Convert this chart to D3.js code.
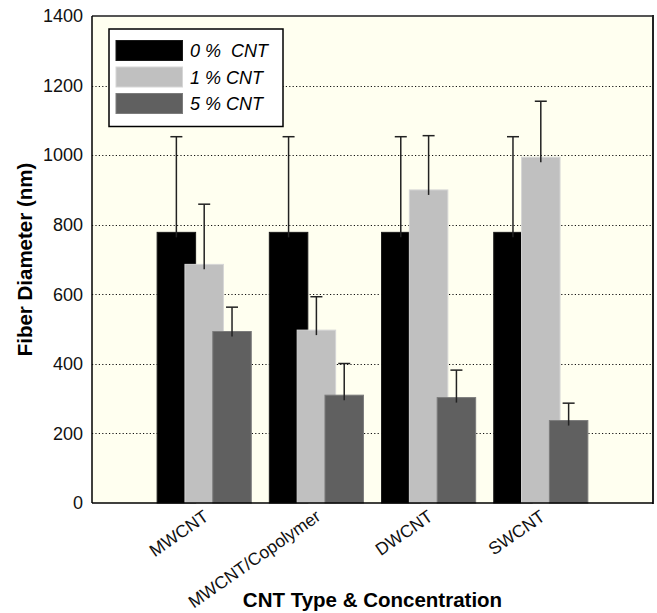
<!DOCTYPE html>
<html>
<head>
<meta charset="utf-8">
<script src="https://cdn.jsdelivr.net/npm/d3@7/dist/d3.min.js"></script>
<style>
  body { margin: 0; background: #fff; }
  svg { display: block; font-family: "Liberation Sans", Arial, sans-serif; }
</style>
</head>
<body>
<div id="graph"></div>
<script>
// data
var categories = ["MWCNT", "MWCNT/Copolymer", "DWCNT", "SWCNT"];
var seriesNames = ["0 %  CNT", "1 % CNT", "5 % CNT"];
var cnt0 = [778, 778, 778, 778];
var cnt0Err = [275, 275, 275, 275];
var cnt1 = [686, 497, 900, 994];
var cnt1Err = [173, 96, 156, 161];
var cnt5 = [493, 310, 303, 237];
var cnt5Err = [70, 91, 79, 50];
var yTicks = [0, 200, 400, 600, 800, 1000, 1200, 1400];

var colors = ["#000000", "#c0c0c0", "#606060"];
var edges = ["#1a1a1a", "#d6d6d6", "#7c7c7c"];

var width = 657, height = 613;
var margin = {left: 92, right: 4, top: 16, bottom: 110};
var plotW = width - margin.left - margin.right;
var plotH = height - margin.top - margin.bottom;

var svg = d3.select("#graph").append("svg")
    .attr("width", width)
    .attr("height", height);

var x = d3.scalePoint()
    .domain(categories)
    .range([margin.left, margin.left + plotW])
    .padding(1);
var y = d3.scaleLinear()
    .domain([0, 1400])
    .range([margin.top + plotH, margin.top]);

var step = x.step();
var barW = step * 0.343;
var offs = [-0.248 * step, 0, 0.248 * step];

// plot background
svg.append("rect")
    .attr("x", margin.left)
    .attr("y", margin.top)
    .attr("width", plotW)
    .attr("height", plotH)
    .attr("fill", "#fffff0");

// dotted grid
svg.append("g").selectAll("line")
    .data(yTicks.filter(function(d) { return d > 0 && d < 1400; }))
    .enter().append("line")
    .attr("x1", margin.left)
    .attr("x2", margin.left + plotW)
    .attr("y1", function(d) { return Math.round(y(d)) + 0.5; })
    .attr("y2", function(d) { return Math.round(y(d)) + 0.5; })
    .attr("stroke", "#111")
    .attr("stroke-width", 1)
    .attr("stroke-dasharray", "1.2,2.2");

// bars
var series = [
    {vals: cnt0, errs: cnt0Err},
    {vals: cnt1, errs: cnt1Err},
    {vals: cnt5, errs: cnt5Err}
];
var barsG = svg.append("g");
categories.forEach(function(c, ci) {
    series.forEach(function(s, si) {
        barsG.append("rect")
            .attr("x", x(c) + offs[si] - barW / 2)
            .attr("y", y(s.vals[ci]))
            .attr("width", barW)
            .attr("height", y(0) - y(s.vals[ci]))
            .attr("fill", colors[si])
            .attr("stroke", edges[si])
            .attr("stroke-width", 1);
    });
});

// error bars (upper only)
var errG = svg.append("g")
    .attr("stroke", "#222")
    .attr("stroke-width", 1.5);
categories.forEach(function(c, ci) {
    series.forEach(function(s, si) {
        var cx = x(c) + offs[si];
        var top = y(s.vals[ci] + s.errs[ci]);
        errG.append("line")
            .attr("x1", cx).attr("x2", cx)
            .attr("y1", top)
            .attr("y2", y(s.vals[ci]) + 5);
        errG.append("line")
            .attr("x1", cx - 6).attr("x2", cx + 6)
            .attr("y1", top).attr("y2", top);
    });
});

// frame
svg.append("line")
    .attr("x1", margin.left).attr("x2", margin.left + plotW)
    .attr("y1", margin.top).attr("y2", margin.top)
    .attr("stroke", "#555").attr("stroke-width", 2);
svg.append("line")
    .attr("x1", margin.left + plotW).attr("x2", margin.left + plotW)
    .attr("y1", margin.top - 1).attr("y2", margin.top + plotH + 1)
    .attr("stroke", "#222").attr("stroke-width", 2);
svg.append("line")
    .attr("x1", margin.left).attr("x2", margin.left)
    .attr("y1", margin.top).attr("y2", margin.top + plotH)
    .attr("stroke", "#000").attr("stroke-width", 1.5);
svg.append("line")
    .attr("x1", margin.left).attr("x2", margin.left + plotW)
    .attr("y1", margin.top + plotH).attr("y2", margin.top + plotH)
    .attr("stroke", "#000").attr("stroke-width", 1.5);

// y axis labels
var yAxis = d3.axisLeft(y).tickValues(yTicks).tickFormat(d3.format("d"))
    .tickSize(0).tickPadding(9);
var yg = svg.append("g")
    .attr("transform", "translate(" + margin.left + ",0)")
    .call(yAxis);
yg.select(".domain").remove();
yg.selectAll("text")
    .attr("font-size", 18)
    .attr("font-family", "'Liberation Sans', Arial, sans-serif")
    .attr("fill", "#111");

// x axis labels
var xAxis = d3.axisBottom(x).tickSize(0).tickPadding(0);
var xg = svg.append("g")
    .attr("transform", "translate(0," + (margin.top + plotH) + ")")
    .call(xAxis);
xg.select(".domain").remove();
xg.selectAll("text")
    .attr("font-size", 17.5)
    .attr("font-family", "'Liberation Sans', Arial, sans-serif")
    .attr("fill", "#111")
    .attr("text-anchor", "end")
    .attr("dy", 0)
    .attr("y", 0)
    .attr("transform", "translate(5,16) rotate(-35)");

// axis titles
svg.append("text")
    .attr("transform", "translate(32," + (margin.top + plotH / 2) + ") rotate(-90)")
    .attr("text-anchor", "middle")
    .attr("font-size", 20.5)
    .attr("font-weight", "bold")
    .text("Fiber Diameter (nm)");
svg.append("text")
    .attr("x", margin.left + plotW / 2)
    .attr("y", 607)
    .attr("text-anchor", "middle")
    .attr("font-size", 20.5)
    .attr("font-weight", "bold")
    .text("CNT Type & Concentration");

// legend
var leg = svg.append("g").attr("transform", "translate(109,29)");
leg.append("rect")
    .attr("width", 174)
    .attr("height", 97.5)
    .attr("fill", "#fff")
    .attr("stroke", "#000")
    .attr("stroke-width", 1.5);
seriesNames.forEach(function(name, i) {
    var row = leg.append("g").attr("transform", "translate(0," + (11.5 + i * 26.5) + ")");
    row.append("rect")
        .attr("x", 7)
        .attr("width", 66.5)
        .attr("height", 20)
        .attr("fill", colors[i])
        .attr("stroke", edges[i]);
    row.append("text")
        .attr("x", 81)
        .attr("y", 16.5)
        .attr("font-size", 18)
        .attr("font-style", "italic")
        .attr("xml:space", "preserve")
        .style("white-space", "pre")
        .text(name);
});
</script>
</body>
</html>
